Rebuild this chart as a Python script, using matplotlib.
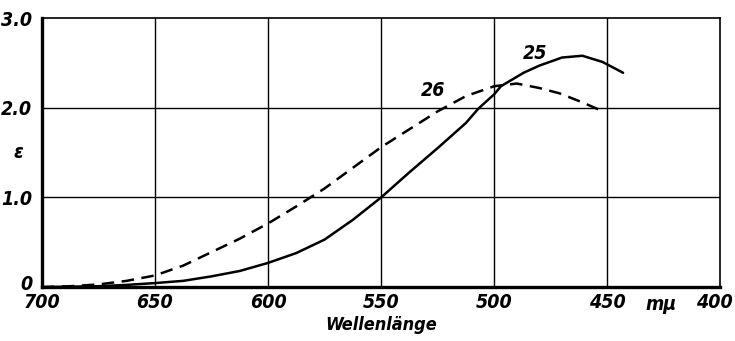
import matplotlib
matplotlib.use("Agg")
import matplotlib.pyplot as plt
from matplotlib.transforms import ScaledTranslation

# curve 25 (solid)
wl_25 = [700, 687.5, 675, 662.5, 650, 637.5, 625, 612.5, 600, 587.5, 575, 562.5,
         550, 537.5, 525, 512.5, 507, 500, 497, 487, 480, 470, 461, 452, 443]
eps_25 = [0.0, 0.005, 0.01, 0.025, 0.045, 0.07, 0.12, 0.18, 0.27, 0.38, 0.53, 0.75,
          1.0, 1.28, 1.55, 1.83, 1.99, 2.15, 2.24, 2.39, 2.47, 2.56, 2.58, 2.51, 2.39]

# curve 26 (dashed)
wl_26 = [700, 687.5, 675, 662.5, 650, 637.5, 625, 612.5, 600, 587.5, 575, 562.5,
         550, 537.5, 525, 512.5, 500, 490, 480, 471, 461, 451]
eps_26 = [0.0, 0.01, 0.03, 0.07, 0.13, 0.24, 0.39, 0.54, 0.71, 0.9, 1.1, 1.33,
          1.56, 1.76, 1.96, 2.13, 2.24, 2.27, 2.22, 2.16, 2.06, 1.95]

x_ticks = [700, 650, 600, 550, 500, 450, 400]
y_ticks = [0, 1.0, 2.0, 3.0]
y_labels = ["0", "1.0", "2.0", "3.0"]

font = dict(family=["Liberation Sans Narrow", "DejaVu Sans"], style="italic",
            weight="bold", stretch="condensed")

fig = plt.figure(figsize=(7.35, 3.41), dpi=100)
ax = fig.add_axes([0.057, 0.158, 0.923, 0.789])

ax.plot(wl_25, eps_25, color="black", lw=1.8, solid_capstyle="round",
        solid_joinstyle="round")
ax.plot(wl_26, eps_26, color="black", lw=1.8, dashes=(5, 3))

ax.set_xlim(700, 400)
ax.set_ylim(0, 3.0)

# grid lines
for x in x_ticks[1:-1]:
    ax.axvline(x, color="black", lw=1.0)
for y in y_ticks[1:-1]:
    ax.axhline(y, color="black", lw=1.0)

for side in ["left", "bottom"]:
    ax.spines[side].set_linewidth(2.4)
for side in ["right", "top"]:
    ax.spines[side].set_linewidth(1.2)

ax.set_xticks(x_ticks)
ax.set_xticklabels([str(v) for v in x_ticks], fontsize=14, **font)
ax.set_yticks(y_ticks)
ax.set_yticklabels(y_labels, fontsize=14, **font)
ax.tick_params(axis="x", length=0, pad=4)
ax.tick_params(axis="y", length=0, pad=7)

# keep "400" inside the figure
last = ax.get_xticklabels()[-1]
last.set_transform(last.get_transform() + ScaledTranslation(-4 / 72, 0, fig.dpi_scale_trans))
# "0" sits a little above the axis
zero = ax.get_yticklabels()[0]
zero.set_transform(zero.get_transform() + ScaledTranslation(0, 3 / 72, fig.dpi_scale_trans))

ax.text(-0.035, 0.5, "ε", transform=ax.transAxes, fontsize=14,
        ha="center", va="center", **font)
ax.text(0.5, -0.14, "Wellenlänge", transform=ax.transAxes, fontsize=13,
        ha="center", va="center", **font)
ax.text(426, -0.065, "mμ", transform=ax.get_xaxis_transform(), fontsize=14,
        ha="center", va="center", **font)

ax.text(482, 2.61, "25", fontsize=14, ha="center", va="center", **font)
ax.text(527, 2.19, "26", fontsize=14, ha="center", va="center", **font)

fig.savefig("out.png", dpi=100)
